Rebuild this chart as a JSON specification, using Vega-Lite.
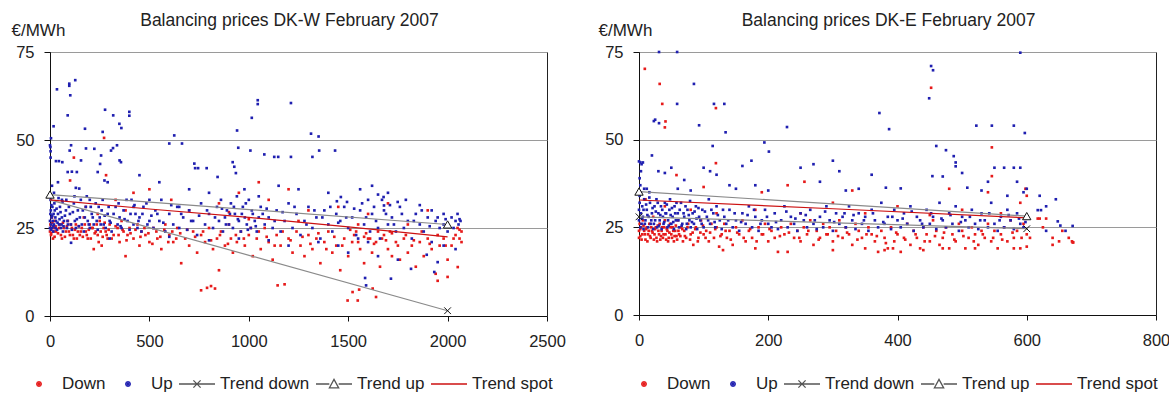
{
  "$schema": "https://vega.github.io/schema/vega-lite/v6.json",
  "background": "white",
  "padding": {"left": 10, "top": 11, "right": 5, "bottom": 0},
  "bounds": "flush",
  "spacing": 92,
  "config": {
    "font": "Liberation Sans",
    "view": {"stroke": "#222222", "strokeWidth": 1},
    "axis": {"labelFont": "Liberation Sans", "labelFontSize": 16.5, "labelColor": "#222222", "domainColor": "#111111", "tickColor": "#111111", "gridColor": "#9a9a9a", "gridWidth": 1, "titleFont": "Liberation Sans", "titleFontSize": 17, "titleFontWeight": "normal", "titleColor": "#222222"},
    "title": {"font": "Liberation Sans", "fontSize": 17.5, "fontWeight": "normal", "color": "#222222", "offset": -8, "dx": -9},
    "legend": {"orient": "none", "direction": "horizontal", "labelFont": "Liberation Sans", "labelFontSize": 17, "labelColor": "#222222", "symbolSize": 1296, "labelOffset": 4, "columnPadding": 3, "symbolStrokeWidth": 1.3, "symbolOpacity": 1}
  },
  "datasets": {
    "trendW": [
      {"s": "Trend down", "x": 0, "y": 33},
      {"s": "Trend down", "x": 2000, "y": 1.5},
      {"s": "Trend up", "x": 0, "y": 34.5},
      {"s": "Trend up", "x": 2000, "y": 26},
      {"s": "Trend spot", "x": 0, "y": 33},
      {"s": "Trend spot", "x": 500, "y": 30.4},
      {"s": "Trend spot", "x": 1000, "y": 28},
      {"s": "Trend spot", "x": 1500, "y": 25.3},
      {"s": "Trend spot", "x": 2000, "y": 22.5}
    ],
    "trendE": [
      {"s": "Trend down", "x": 0, "y": 28},
      {"s": "Trend down", "x": 600, "y": 24.6},
      {"s": "Trend up", "x": 0, "y": 35.2},
      {"s": "Trend up", "x": 600, "y": 28.2},
      {"s": "Trend spot", "x": 0, "y": 32.8},
      {"s": "Trend spot", "x": 300, "y": 30.3},
      {"s": "Trend spot", "x": 600, "y": 27.7}
    ],
    "markW": [
      {"s": "Trend up", "x": 0, "y": 34.5},
      {"s": "Trend up", "x": 2000, "y": 26},
      {"s": "Trend down", "x": 2000, "y": 1.5}
    ],
    "markE": [
      {"s": "Trend up", "x": 0, "y": 35.2},
      {"s": "Trend down", "x": 0, "y": 28},
      {"s": "Trend up", "x": 600, "y": 28.2},
      {"s": "Trend down", "x": 600, "y": 24.6}
    ],
    "scatW": [
      {"s":"Down","x":0,"y":24},{"s":"Down","x":2,"y":26},{"s":"Down","x":5,"y":23},{"s":"Down","x":8,"y":25},{"s":"Down","x":10,"y":28},{"s":"Down","x":15,"y":22},{"s":"Down","x":20,"y":25},{"s":"Down","x":25,"y":27},{"s":"Down","x":30,"y":24},{"s":"Down","x":40,"y":23.5},{"s":"Down","x":50,"y":26},{"s":"Down","x":60,"y":22},{"s":"Down","x":70,"y":25},{"s":"Down","x":80,"y":24},{"s":"Down","x":90,"y":27},{"s":"Down","x":100,"y":23},{"s":"Down","x":110,"y":25},{"s":"Down","x":120,"y":22},{"s":"Down","x":130,"y":26},{"s":"Down","x":140,"y":24},{"s":"Down","x":150,"y":23},{"s":"Down","x":160,"y":25},{"s":"Down","x":170,"y":28},{"s":"Down","x":180,"y":24},{"s":"Down","x":190,"y":22},{"s":"Down","x":200,"y":26},{"s":"Down","x":210,"y":25},{"s":"Down","x":220,"y":19},{"s":"Down","x":230,"y":24},{"s":"Down","x":240,"y":23},{"s":"Down","x":250,"y":27},{"s":"Down","x":260,"y":20},{"s":"Down","x":270,"y":25},{"s":"Down","x":280,"y":24},{"s":"Down","x":290,"y":22},{"s":"Down","x":300,"y":26},{"s":"Down","x":320,"y":23},{"s":"Down","x":340,"y":25},{"s":"Down","x":350,"y":21},{"s":"Down","x":360,"y":27},{"s":"Down","x":370,"y":24},{"s":"Down","x":380,"y":17},{"s":"Down","x":390,"y":23},{"s":"Down","x":400,"y":25},{"s":"Down","x":420,"y":22},{"s":"Down","x":440,"y":26},{"s":"Down","x":450,"y":20},{"s":"Down","x":460,"y":24},{"s":"Down","x":480,"y":23},{"s":"Down","x":500,"y":21},{"s":"Down","x":520,"y":25},{"s":"Down","x":540,"y":22},{"s":"Down","x":560,"y":19},{"s":"Down","x":580,"y":26},{"s":"Down","x":600,"y":23},{"s":"Down","x":620,"y":21},{"s":"Down","x":640,"y":25},{"s":"Down","x":660,"y":15},{"s":"Down","x":680,"y":22},{"s":"Down","x":700,"y":20},{"s":"Down","x":720,"y":24},{"s":"Down","x":740,"y":18},{"s":"Down","x":760,"y":23},{"s":"Down","x":780,"y":21},{"s":"Down","x":800,"y":25},{"s":"Down","x":820,"y":19},{"s":"Down","x":840,"y":22},{"s":"Down","x":850,"y":13},{"s":"Down","x":860,"y":24},{"s":"Down","x":880,"y":20},{"s":"Down","x":900,"y":26},{"s":"Down","x":910,"y":22},{"s":"Down","x":920,"y":18},{"s":"Down","x":940,"y":21},{"s":"Down","x":960,"y":24},{"s":"Down","x":980,"y":20},{"s":"Down","x":1000,"y":23},{"s":"Down","x":1020,"y":17},{"s":"Down","x":1040,"y":22},{"s":"Down","x":1060,"y":19},{"s":"Down","x":1080,"y":25},{"s":"Down","x":1100,"y":21},{"s":"Down","x":1120,"y":16},{"s":"Down","x":1140,"y":23},{"s":"Down","x":1160,"y":20},{"s":"Down","x":1180,"y":9},{"s":"Down","x":1200,"y":22},{"s":"Down","x":1220,"y":18},{"s":"Down","x":1240,"y":24},{"s":"Down","x":1260,"y":20},{"s":"Down","x":1280,"y":17},{"s":"Down","x":1300,"y":23},{"s":"Down","x":1320,"y":19},{"s":"Down","x":1340,"y":22},{"s":"Down","x":1360,"y":15},{"s":"Down","x":1380,"y":21},{"s":"Down","x":1400,"y":24},{"s":"Down","x":1420,"y":18},{"s":"Down","x":1440,"y":20},{"s":"Down","x":1460,"y":13},{"s":"Down","x":1480,"y":22},{"s":"Down","x":1500,"y":17},{"s":"Down","x":1520,"y":21},{"s":"Down","x":1540,"y":24},{"s":"Down","x":1560,"y":19},{"s":"Down","x":1580,"y":15},{"s":"Down","x":1600,"y":22},{"s":"Down","x":1620,"y":18},{"s":"Down","x":1640,"y":21},{"s":"Down","x":1660,"y":14},{"s":"Down","x":1680,"y":23},{"s":"Down","x":1700,"y":19},{"s":"Down","x":1720,"y":17},{"s":"Down","x":1740,"y":21},{"s":"Down","x":1760,"y":16},{"s":"Down","x":1780,"y":22},{"s":"Down","x":1800,"y":18},{"s":"Down","x":1820,"y":20},{"s":"Down","x":1840,"y":14},{"s":"Down","x":1860,"y":21},{"s":"Down","x":1880,"y":17},{"s":"Down","x":1900,"y":22},{"s":"Down","x":1920,"y":19},{"s":"Down","x":1940,"y":12},{"s":"Down","x":1960,"y":20},{"s":"Down","x":1980,"y":22},{"s":"Down","x":2000,"y":16},{"s":"Down","x":2020,"y":20},{"s":"Down","x":2040,"y":23},{"s":"Down","x":2060,"y":22},{"s":"Down","x":2070,"y":21},
      {"s":"Down","x":760,"y":7.3},{"s":"Down","x":790,"y":8},{"s":"Down","x":810,"y":8.5},{"s":"Down","x":830,"y":7.8},{"s":"Down","x":1497,"y":4.4},{"s":"Down","x":1548,"y":4.4},{"s":"Down","x":1522,"y":6.8},{"s":"Down","x":1555,"y":7.5},{"s":"Down","x":1640,"y":5.4},{"s":"Down","x":1623,"y":7.8},{"s":"Down","x":2000,"y":11.1},{"s":"Down","x":1950,"y":10},{"s":"Down","x":2051,"y":13.9},{"s":"Down","x":1145,"y":8.7},{"s":"Down","x":101,"y":38.5},{"s":"Down","x":272,"y":50.6},{"s":"Down","x":282,"y":40},{"s":"Down","x":120,"y":45},{"s":"Down","x":330,"y":33},{"s":"Down","x":500,"y":36},{"s":"Down","x":610,"y":33},{"s":"Down","x":700,"y":30},{"s":"Down","x":850,"y":32},{"s":"Down","x":950,"y":35},{"s":"Down","x":1050,"y":38},{"s":"Down","x":1100,"y":33},{"s":"Down","x":1200,"y":36},{"s":"Down","x":1300,"y":30},{"s":"Down","x":1450,"y":31},{"s":"Down","x":1600,"y":29},{"s":"Down","x":1700,"y":32},{"s":"Down","x":1900,"y":30},{"s":"Down","x":2060,"y":24.5},{"s":"Down","x":2070,"y":24},{"s":"Down","x":380,"y":30},{"s":"Down","x":420,"y":35},{"s":"Down","x":180,"y":31},{"s":"Down","x":240,"y":29},{"s":"Down","x":900,"y":29.5},{"s":"Down","x":1000,"y":27.5},{"s":"Down","x":1250,"y":27},{"s":"Down","x":1550,"y":26},{"s":"Down","x":1800,"y":26},{"s":"Down","x":1650,"y":24},{"s":"Down","x":1720,"y":23.5},{"s":"Down","x":1580,"y":22.5},{"s":"Down","x":1530,"y":23},{"s":"Down","x":1610,"y":22},{"s":"Down","x":1690,"y":21.5},
      {"s":"Down","x":3,"y":25},{"s":"Down","x":6,"y":23.5},{"s":"Down","x":12,"y":26.5},{"s":"Down","x":18,"y":24},{"s":"Down","x":23,"y":22.5},{"s":"Down","x":28,"y":25.5},{"s":"Down","x":35,"y":24.5},{"s":"Down","x":45,"y":25},{"s":"Down","x":55,"y":23},{"s":"Down","x":65,"y":26.5},{"s":"Down","x":75,"y":22.5},{"s":"Down","x":85,"y":25.5},{"s":"Down","x":95,"y":24},{"s":"Down","x":105,"y":26},{"s":"Down","x":115,"y":23},{"s":"Down","x":125,"y":24.5},{"s":"Down","x":135,"y":22},{"s":"Down","x":145,"y":25.5},{"s":"Down","x":155,"y":24},{"s":"Down","x":165,"y":22.5},{"s":"Down","x":175,"y":26},{"s":"Down","x":185,"y":23},{"s":"Down","x":195,"y":24.5},{"s":"Down","x":205,"y":22},{"s":"Down","x":215,"y":25},{"s":"Down","x":225,"y":23.5},{"s":"Down","x":235,"y":26},{"s":"Down","x":245,"y":21},{"s":"Down","x":255,"y":24},{"s":"Down","x":265,"y":22.5},{"s":"Down","x":275,"y":26.5},{"s":"Down","x":285,"y":23},{"s":"Down","x":295,"y":24.5},{"s":"Down","x":310,"y":22},{"s":"Down","x":330,"y":25.5},{"s":"Down","x":345,"y":23},{"s":"Down","x":365,"y":24.5},{"s":"Down","x":385,"y":21.5},{"s":"Down","x":405,"y":23.5},{"s":"Down","x":430,"y":24.5},{"s":"Down","x":455,"y":22.5},{"s":"Down","x":475,"y":25},{"s":"Down","x":495,"y":23.5},{"s":"Down","x":515,"y":20.5},{"s":"Down","x":535,"y":24},{"s":"Down","x":555,"y":22.5},{"s":"Down","x":575,"y":24.5},{"s":"Down","x":595,"y":21},{"s":"Down","x":615,"y":24},{"s":"Down","x":635,"y":22},{"s":"Down","x":655,"y":23.5},{"s":"Down","x":690,"y":24.5},{"s":"Down","x":730,"y":22.5},{"s":"Down","x":770,"y":24},{"s":"Down","x":810,"y":21.5},{"s":"Down","x":855,"y":23},{"s":"Down","x":895,"y":20.5},{"s":"Down","x":935,"y":23},{"s":"Down","x":975,"y":22},{"s":"Down","x":1010,"y":25},{"s":"Down","x":1050,"y":24},{"s":"Down","x":1090,"y":22.5},{"s":"Down","x":1130,"y":20},{"s":"Down","x":1170,"y":24},{"s":"Down","x":1210,"y":21.5},{"s":"Down","x":1270,"y":22.5},{"s":"Down","x":1310,"y":20.5},{"s":"Down","x":1350,"y":23.5},{"s":"Down","x":1390,"y":19},{"s":"Down","x":1430,"y":22.5},{"s":"Down","x":1470,"y":20},{"s":"Down","x":1510,"y":24.5},{"s":"Down","x":1550,"y":21},{"s":"Down","x":1590,"y":23.5},{"s":"Down","x":1630,"y":20.5},{"s":"Down","x":1670,"y":22},{"s":"Down","x":1710,"y":24},{"s":"Down","x":1750,"y":20},{"s":"Down","x":1790,"y":23},{"s":"Down","x":1830,"y":21.5},{"s":"Down","x":1870,"y":24},{"s":"Down","x":1910,"y":20.5},{"s":"Down","x":1950,"y":23},{"s":"Down","x":1990,"y":20},{"s":"Down","x":2030,"y":22},{"s":"Down","x":2050,"y":25},
      {"s":"Up","x":0,"y":27},{"s":"Up","x":0,"y":25},{"s":"Up","x":2,"y":29},{"s":"Up","x":4,"y":30},{"s":"Up","x":5,"y":24.5},{"s":"Up","x":6,"y":26},{"s":"Up","x":8,"y":28},{"s":"Up","x":10,"y":25},{"s":"Up","x":12,"y":31},{"s":"Up","x":14,"y":27},{"s":"Up","x":16,"y":24},{"s":"Up","x":18,"y":29},{"s":"Up","x":20,"y":26},{"s":"Up","x":24,"y":30},{"s":"Up","x":28,"y":25},{"s":"Up","x":30,"y":27},{"s":"Up","x":35,"y":24.5},{"s":"Up","x":40,"y":29},{"s":"Up","x":45,"y":26},{"s":"Up","x":50,"y":31},{"s":"Up","x":55,"y":25},{"s":"Up","x":60,"y":28},{"s":"Up","x":65,"y":24},{"s":"Up","x":70,"y":27},{"s":"Up","x":80,"y":30},{"s":"Up","x":85,"y":25},{"s":"Up","x":90,"y":26},{"s":"Up","x":100,"y":29},{"s":"Up","x":110,"y":24.5},{"s":"Up","x":120,"y":32},{"s":"Up","x":125,"y":27},{"s":"Up","x":130,"y":25},{"s":"Up","x":140,"y":30},{"s":"Up","x":150,"y":28},{"s":"Up","x":155,"y":33},{"s":"Up","x":160,"y":26},{"s":"Up","x":170,"y":24},{"s":"Up","x":180,"y":31},{"s":"Up","x":190,"y":27},{"s":"Up","x":200,"y":25},{"s":"Up","x":210,"y":29},{"s":"Up","x":220,"y":26},{"s":"Up","x":230,"y":32},{"s":"Up","x":240,"y":24.5},{"s":"Up","x":250,"y":28},{"s":"Up","x":260,"y":30},{"s":"Up","x":270,"y":26},{"s":"Up","x":280,"y":25},{"s":"Up","x":290,"y":29},{"s":"Up","x":300,"y":27},{"s":"Up","x":310,"y":24},{"s":"Up","x":330,"y":31},{"s":"Up","x":340,"y":26},{"s":"Up","x":350,"y":28},{"s":"Up","x":360,"y":25},{"s":"Up","x":370,"y":30},{"s":"Up","x":390,"y":27},{"s":"Up","x":400,"y":24.5},{"s":"Up","x":410,"y":33},{"s":"Up","x":420,"y":26},{"s":"Up","x":430,"y":29},{"s":"Up","x":440,"y":25},{"s":"Up","x":450,"y":28},{"s":"Up","x":460,"y":24},{"s":"Up","x":470,"y":31},{"s":"Up","x":490,"y":26},{"s":"Up","x":500,"y":27},{"s":"Up","x":520,"y":25},{"s":"Up","x":530,"y":30},{"s":"Up","x":550,"y":27},{"s":"Up","x":560,"y":33},{"s":"Up","x":580,"y":24},{"s":"Up","x":600,"y":29},{"s":"Up","x":620,"y":26},{"s":"Up","x":640,"y":31},{"s":"Up","x":650,"y":25},{"s":"Up","x":670,"y":28},{"s":"Up","x":690,"y":24.5},{"s":"Up","x":700,"y":30},{"s":"Up","x":720,"y":27},{"s":"Up","x":740,"y":23},{"s":"Up","x":760,"y":32},{"s":"Up","x":780,"y":26},{"s":"Up","x":800,"y":29},{"s":"Up","x":820,"y":25},{"s":"Up","x":840,"y":31},{"s":"Up","x":850,"y":27},{"s":"Up","x":860,"y":33},{"s":"Up","x":870,"y":24},{"s":"Up","x":880,"y":28},{"s":"Up","x":890,"y":30},{"s":"Up","x":900,"y":26},{"s":"Up","x":910,"y":32},{"s":"Up","x":920,"y":25},{"s":"Up","x":930,"y":29},{"s":"Up","x":940,"y":34},{"s":"Up","x":950,"y":27},{"s":"Up","x":960,"y":24},{"s":"Up","x":970,"y":31},{"s":"Up","x":980,"y":28},{"s":"Up","x":990,"y":26},{"s":"Up","x":1000,"y":33},{"s":"Up","x":1010,"y":25},{"s":"Up","x":1020,"y":29},{"s":"Up","x":1030,"y":27},{"s":"Up","x":1040,"y":24},{"s":"Up","x":1060,"y":31},{"s":"Up","x":1080,"y":26},{"s":"Up","x":1100,"y":28},{"s":"Up","x":1120,"y":25},{"s":"Up","x":1140,"y":30},{"s":"Up","x":1160,"y":24},{"s":"Up","x":1180,"y":27},{"s":"Up","x":1200,"y":32},{"s":"Up","x":1220,"y":25},{"s":"Up","x":1240,"y":29},{"s":"Up","x":1260,"y":23},{"s":"Up","x":1280,"y":27},{"s":"Up","x":1300,"y":31},{"s":"Up","x":1320,"y":25},{"s":"Up","x":1340,"y":28},{"s":"Up","x":1360,"y":22},{"s":"Up","x":1380,"y":30},{"s":"Up","x":1400,"y":26},{"s":"Up","x":1420,"y":24},{"s":"Up","x":1440,"y":29},{"s":"Up","x":1460,"y":27},{"s":"Up","x":1480,"y":31},{"s":"Up","x":1500,"y":25},{"s":"Up","x":1520,"y":28},{"s":"Up","x":1540,"y":23},{"s":"Up","x":1560,"y":30},{"s":"Up","x":1580,"y":26},{"s":"Up","x":1600,"y":33},{"s":"Up","x":1610,"y":24},{"s":"Up","x":1620,"y":29},{"s":"Up","x":1640,"y":27},{"s":"Up","x":1660,"y":22},{"s":"Up","x":1680,"y":30},{"s":"Up","x":1700,"y":26},{"s":"Up","x":1720,"y":28},{"s":"Up","x":1740,"y":24},{"s":"Up","x":1760,"y":31},{"s":"Up","x":1780,"y":25},{"s":"Up","x":1800,"y":27},{"s":"Up","x":1820,"y":22},{"s":"Up","x":1840,"y":29},{"s":"Up","x":1860,"y":26},{"s":"Up","x":1880,"y":24},{"s":"Up","x":1900,"y":28},{"s":"Up","x":1920,"y":21},{"s":"Up","x":1940,"y":27},{"s":"Up","x":1960,"y":25},{"s":"Up","x":1980,"y":26},{"s":"Up","x":2000,"y":24},{"s":"Up","x":2020,"y":28},{"s":"Up","x":2040,"y":27},{"s":"Up","x":2055,"y":26},{"s":"Up","x":2065,"y":27},
      {"s":"Up","x":3,"y":33},{"s":"Up","x":7,"y":31.5},{"s":"Up","x":11,"y":28.5},{"s":"Up","x":17,"y":25.5},{"s":"Up","x":22,"y":32},{"s":"Up","x":27,"y":28},{"s":"Up","x":33,"y":30.5},{"s":"Up","x":38,"y":26.5},{"s":"Up","x":43,"y":33.5},{"s":"Up","x":48,"y":27.5},{"s":"Up","x":53,"y":29.5},{"s":"Up","x":58,"y":26},{"s":"Up","x":63,"y":32.5},{"s":"Up","x":68,"y":25.5},{"s":"Up","x":75,"y":28.5},{"s":"Up","x":82,"y":33},{"s":"Up","x":88,"y":27},{"s":"Up","x":95,"y":31},{"s":"Up","x":105,"y":26},{"s":"Up","x":115,"y":29.5},{"s":"Up","x":123,"y":34},{"s":"Up","x":135,"y":27.5},{"s":"Up","x":145,"y":25.5},{"s":"Up","x":165,"y":30},{"s":"Up","x":175,"y":28},{"s":"Up","x":185,"y":34},{"s":"Up","x":195,"y":26},{"s":"Up","x":205,"y":31},{"s":"Up","x":215,"y":28},{"s":"Up","x":235,"y":27},{"s":"Up","x":245,"y":31},{"s":"Up","x":255,"y":26},{"s":"Up","x":265,"y":33},{"s":"Up","x":275,"y":28.5},{"s":"Up","x":295,"y":31},{"s":"Up","x":305,"y":26.5},{"s":"Up","x":320,"y":29},{"s":"Up","x":345,"y":32},{"s":"Up","x":355,"y":25.5},{"s":"Up","x":375,"y":27.5},{"s":"Up","x":385,"y":33},{"s":"Up","x":405,"y":29},{"s":"Up","x":425,"y":31.5},{"s":"Up","x":445,"y":27},{"s":"Up","x":465,"y":29},{"s":"Up","x":485,"y":32},{"s":"Up","x":510,"y":28.5},{"s":"Up","x":540,"y":29},{"s":"Up","x":570,"y":26.5},{"s":"Up","x":610,"y":31.5},{"s":"Up","x":660,"y":29},{"s":"Up","x":710,"y":27},{"s":"Up","x":750,"y":28.5},{"s":"Up","x":790,"y":30},{"s":"Up","x":830,"y":28},{"s":"Up","x":865,"y":30.5},{"s":"Up","x":885,"y":26},{"s":"Up","x":905,"y":29},{"s":"Up","x":925,"y":31},{"s":"Up","x":945,"y":27.5},{"s":"Up","x":965,"y":29},{"s":"Up","x":985,"y":32},{"s":"Up","x":995,"y":24.5},{"s":"Up","x":1015,"y":30},{"s":"Up","x":1035,"y":25.5},{"s":"Up","x":1050,"y":28},{"s":"Up","x":1070,"y":29},{"s":"Up","x":1090,"y":30.5},{"s":"Up","x":1130,"y":27},{"s":"Up","x":1170,"y":29.5},{"s":"Up","x":1230,"y":31},{"s":"Up","x":1290,"y":26},{"s":"Up","x":1330,"y":30},{"s":"Up","x":1370,"y":28},{"s":"Up","x":1410,"y":31},{"s":"Up","x":1450,"y":26.5},{"s":"Up","x":1490,"y":28},{"s":"Up","x":1530,"y":30.5},{"s":"Up","x":1570,"y":32},{"s":"Up","x":1590,"y":28},{"s":"Up","x":1630,"y":31},{"s":"Up","x":1650,"y":25},{"s":"Up","x":1670,"y":33},{"s":"Up","x":1690,"y":29},{"s":"Up","x":1710,"y":31.5},{"s":"Up","x":1730,"y":26},{"s":"Up","x":1770,"y":29},{"s":"Up","x":1790,"y":33},{"s":"Up","x":1830,"y":27},{"s":"Up","x":1870,"y":30},{"s":"Up","x":1910,"y":25.5},{"s":"Up","x":1950,"y":28},{"s":"Up","x":1990,"y":27.5},{"s":"Up","x":2030,"y":25},{"s":"Up","x":2050,"y":29},
      {"s":"Up","x":2,"y":48},{"s":"Up","x":3,"y":45},{"s":"Up","x":5,"y":50.5},{"s":"Up","x":0,"y":48.5},{"s":"Up","x":3,"y":46.8},{"s":"Up","x":18,"y":53.9},{"s":"Up","x":35,"y":64.4},{"s":"Up","x":30,"y":44},{"s":"Up","x":45,"y":44},{"s":"Up","x":62,"y":43.7},{"s":"Up","x":89,"y":57},{"s":"Up","x":97,"y":66},{"s":"Up","x":97,"y":65.4},{"s":"Up","x":102,"y":62.7},{"s":"Up","x":127,"y":67},{"s":"Up","x":106,"y":48.5},{"s":"Up","x":99,"y":47},{"s":"Up","x":89,"y":40.9},{"s":"Up","x":110,"y":41},{"s":"Up","x":135,"y":40.9},{"s":"Up","x":156,"y":44.2},{"s":"Up","x":181,"y":47.6},{"s":"Up","x":176,"y":53.2},{"s":"Up","x":130,"y":36.4},{"s":"Up","x":147,"y":36.2},{"s":"Up","x":223,"y":47.5},{"s":"Up","x":257,"y":45.6},{"s":"Up","x":252,"y":43.2},{"s":"Up","x":240,"y":40.9},{"s":"Up","x":274,"y":38.5},{"s":"Up","x":290,"y":38},{"s":"Up","x":265,"y":52.3},{"s":"Up","x":277,"y":58.6},{"s":"Up","x":307,"y":47},{"s":"Up","x":317,"y":47.7},{"s":"Up","x":337,"y":48.5},{"s":"Up","x":350,"y":44.2},{"s":"Up","x":357,"y":43.7},{"s":"Up","x":318,"y":57},{"s":"Up","x":349,"y":54.6},{"s":"Up","x":359,"y":53.4},{"s":"Up","x":399,"y":58},{"s":"Up","x":399,"y":56.9},{"s":"Up","x":625,"y":51.3},{"s":"Up","x":600,"y":49},{"s":"Up","x":664,"y":49},{"s":"Up","x":726,"y":43.3},{"s":"Up","x":730,"y":42},{"s":"Up","x":745,"y":42},{"s":"Up","x":788,"y":42},{"s":"Up","x":843,"y":39.5},{"s":"Up","x":919,"y":43.7},{"s":"Up","x":927,"y":42.4},{"s":"Up","x":935,"y":40.6},{"s":"Up","x":941,"y":52.7},{"s":"Up","x":978,"y":36},{"s":"Up","x":1008,"y":47},{"s":"Up","x":947,"y":47.8},{"s":"Up","x":1015,"y":56.3},{"s":"Up","x":1045,"y":61.3},{"s":"Up","x":1045,"y":60.2},{"s":"Up","x":1078,"y":45.9},{"s":"Up","x":1128,"y":45.2},{"s":"Up","x":1148,"y":45.2},{"s":"Up","x":1212,"y":60.5},{"s":"Up","x":1212,"y":45.2},{"s":"Up","x":1320,"y":45.2},{"s":"Up","x":1313,"y":51.8},{"s":"Up","x":1351,"y":51},{"s":"Up","x":1354,"y":47},{"s":"Up","x":1434,"y":47},{"s":"Up","x":1463,"y":33.8},{"s":"Up","x":1443,"y":32.6},{"s":"Up","x":1494,"y":32.4},{"s":"Up","x":1678,"y":33.8},{"s":"Up","x":1680,"y":31.4},{"s":"Up","x":1749,"y":32.4},{"s":"Up","x":1700,"y":35},{"s":"Up","x":1560,"y":36},{"s":"Up","x":1620,"y":37},{"s":"Up","x":1650,"y":34.5},{"s":"Up","x":1400,"y":35},{"s":"Up","x":1250,"y":36},{"s":"Up","x":1150,"y":37},{"s":"Up","x":1050,"y":34},{"s":"Up","x":800,"y":35},{"s":"Up","x":700,"y":36},{"s":"Up","x":550,"y":38},{"s":"Up","x":450,"y":40},{"s":"Up","x":500,"y":33},{"s":"Up","x":650,"y":31},{"s":"Up","x":420,"y":31},{"s":"Up","x":200,"y":33},{"s":"Up","x":60,"y":33},{"s":"Up","x":20,"y":35},{"s":"Up","x":10,"y":37},{"s":"Up","x":40,"y":38},{"s":"Up","x":1860,"y":31.5},{"s":"Up","x":1920,"y":30},{"s":"Up","x":2060,"y":27.5},{"s":"Up","x":1980,"y":29},
      {"s":"Up","x":106,"y":20.8},{"s":"Up","x":1585,"y":10.8},{"s":"Up","x":1590,"y":8.7},{"s":"Up","x":1715,"y":10.6},{"s":"Up","x":1816,"y":13.4},{"s":"Up","x":1933,"y":12.5},{"s":"Up","x":1950,"y":15.3},{"s":"Up","x":1895,"y":17.4},{"s":"Up","x":1500,"y":18},{"s":"Up","x":1650,"y":17},{"s":"Up","x":1750,"y":16},{"s":"Up","x":1450,"y":20},{"s":"Up","x":1350,"y":21},{"s":"Up","x":1200,"y":20},{"s":"Up","x":1100,"y":21.5},{"s":"Up","x":950,"y":22},{"s":"Up","x":800,"y":21.5},{"s":"Up","x":600,"y":22.5},{"s":"Up","x":300,"y":22},{"s":"Up","x":1550,"y":22},{"s":"Up","x":1600,"y":21},{"s":"Up","x":1980,"y":20},{"s":"Up","x":2040,"y":19}
    ],
    "scatE": [
      {"s":"Down","x":0,"y":24},{"s":"Down","x":1,"y":26},{"s":"Down","x":2,"y":22.5},{"s":"Down","x":3,"y":25},{"s":"Down","x":5,"y":23},{"s":"Down","x":6,"y":27},{"s":"Down","x":8,"y":24},{"s":"Down","x":10,"y":21.5},{"s":"Down","x":12,"y":25},{"s":"Down","x":14,"y":23},{"s":"Down","x":16,"y":26},{"s":"Down","x":18,"y":22},{"s":"Down","x":20,"y":24},{"s":"Down","x":22,"y":28},{"s":"Down","x":24,"y":23},{"s":"Down","x":26,"y":25},{"s":"Down","x":28,"y":21},{"s":"Down","x":30,"y":24},{"s":"Down","x":32,"y":26},{"s":"Down","x":34,"y":22.5},{"s":"Down","x":36,"y":25},{"s":"Down","x":38,"y":23},{"s":"Down","x":40,"y":27},{"s":"Down","x":42,"y":21.5},{"s":"Down","x":44,"y":24},{"s":"Down","x":46,"y":22},{"s":"Down","x":48,"y":26},{"s":"Down","x":50,"y":23},{"s":"Down","x":52,"y":25},{"s":"Down","x":54,"y":21},{"s":"Down","x":56,"y":24},{"s":"Down","x":58,"y":22.5},{"s":"Down","x":60,"y":27},{"s":"Down","x":62,"y":23},{"s":"Down","x":65,"y":25},{"s":"Down","x":68,"y":21},{"s":"Down","x":70,"y":24},{"s":"Down","x":73,"y":22},{"s":"Down","x":76,"y":26},{"s":"Down","x":80,"y":23},{"s":"Down","x":84,"y":20},{"s":"Down","x":88,"y":25},{"s":"Down","x":92,"y":22},{"s":"Down","x":96,"y":27},{"s":"Down","x":100,"y":23},{"s":"Down","x":104,"y":24},{"s":"Down","x":108,"y":21},{"s":"Down","x":112,"y":26},{"s":"Down","x":116,"y":22},{"s":"Down","x":120,"y":25},{"s":"Down","x":124,"y":19.5},{"s":"Down","x":128,"y":23},{"s":"Down","x":132,"y":26},{"s":"Down","x":136,"y":22},{"s":"Down","x":140,"y":24},{"s":"Down","x":145,"y":20},{"s":"Down","x":150,"y":25},{"s":"Down","x":155,"y":23},{"s":"Down","x":160,"y":27},{"s":"Down","x":165,"y":21},{"s":"Down","x":170,"y":24},{"s":"Down","x":175,"y":22},{"s":"Down","x":180,"y":19},{"s":"Down","x":185,"y":25},{"s":"Down","x":190,"y":23},{"s":"Down","x":195,"y":26},{"s":"Down","x":200,"y":21},{"s":"Down","x":205,"y":24},{"s":"Down","x":210,"y":22},{"s":"Down","x":215,"y":18},{"s":"Down","x":220,"y":25},{"s":"Down","x":225,"y":23},{"s":"Down","x":230,"y":18},{"s":"Down","x":235,"y":26},{"s":"Down","x":240,"y":22},{"s":"Down","x":245,"y":24},{"s":"Down","x":250,"y":21},{"s":"Down","x":255,"y":25},{"s":"Down","x":260,"y":23},{"s":"Down","x":265,"y":27},{"s":"Down","x":270,"y":20},{"s":"Down","x":275,"y":24},{"s":"Down","x":280,"y":22},{"s":"Down","x":285,"y":26},{"s":"Down","x":290,"y":23},{"s":"Down","x":295,"y":25},{"s":"Down","x":300,"y":21},{"s":"Down","x":305,"y":24},{"s":"Down","x":310,"y":27},{"s":"Down","x":315,"y":22},{"s":"Down","x":320,"y":25},{"s":"Down","x":325,"y":23},{"s":"Down","x":330,"y":20},{"s":"Down","x":335,"y":26},{"s":"Down","x":340,"y":24},{"s":"Down","x":345,"y":22},{"s":"Down","x":350,"y":19},{"s":"Down","x":355,"y":25},{"s":"Down","x":360,"y":23},{"s":"Down","x":365,"y":21},{"s":"Down","x":370,"y":18},{"s":"Down","x":375,"y":24},{"s":"Down","x":380,"y":22},{"s":"Down","x":385,"y":19},{"s":"Down","x":390,"y":25},{"s":"Down","x":395,"y":21},{"s":"Down","x":400,"y":23},{"s":"Down","x":405,"y":18},{"s":"Down","x":410,"y":22},{"s":"Down","x":415,"y":26},{"s":"Down","x":420,"y":20},{"s":"Down","x":425,"y":24},{"s":"Down","x":430,"y":22},{"s":"Down","x":435,"y":19},{"s":"Down","x":440,"y":25},{"s":"Down","x":445,"y":23},{"s":"Down","x":450,"y":21},{"s":"Down","x":455,"y":27},{"s":"Down","x":460,"y":24},{"s":"Down","x":465,"y":20},{"s":"Down","x":470,"y":22},{"s":"Down","x":475,"y":25},{"s":"Down","x":480,"y":19},{"s":"Down","x":485,"y":23},{"s":"Down","x":490,"y":21},{"s":"Down","x":495,"y":26},{"s":"Down","x":500,"y":24},{"s":"Down","x":505,"y":19},{"s":"Down","x":510,"y":22},{"s":"Down","x":515,"y":25},{"s":"Down","x":520,"y":23},{"s":"Down","x":525,"y":20},{"s":"Down","x":530,"y":24},{"s":"Down","x":535,"y":22},{"s":"Down","x":540,"y":26},{"s":"Down","x":545,"y":21},{"s":"Down","x":550,"y":24},{"s":"Down","x":555,"y":19},{"s":"Down","x":560,"y":23},{"s":"Down","x":565,"y":25},{"s":"Down","x":570,"y":21},{"s":"Down","x":575,"y":27},{"s":"Down","x":580,"y":22},{"s":"Down","x":585,"y":24},{"s":"Down","x":590,"y":19},{"s":"Down","x":595,"y":26},{"s":"Down","x":600,"y":23},{"s":"Down","x":605,"y":22},{"s":"Down","x":620,"y":27.5},{"s":"Down","x":625,"y":25},{"s":"Down","x":640,"y":22},{"s":"Down","x":650,"y":21},{"s":"Down","x":655,"y":24},{"s":"Down","x":670,"y":21},{"s":"Down","x":672,"y":20.7},
      {"s":"Down","x":9,"y":70.2},{"s":"Down","x":32,"y":65.9},{"s":"Down","x":36,"y":60.2},{"s":"Down","x":41,"y":55.2},{"s":"Down","x":40,"y":53.5},{"s":"Down","x":119,"y":59},{"s":"Down","x":119,"y":43.3},{"s":"Down","x":58,"y":39.9},{"s":"Down","x":256,"y":38},{"s":"Down","x":452,"y":64.8},{"s":"Down","x":546,"y":47.8},{"s":"Down","x":546,"y":39.6},{"s":"Down","x":100,"y":36.5},{"s":"Down","x":190,"y":35},{"s":"Down","x":230,"y":37},{"s":"Down","x":330,"y":35.5},{"s":"Down","x":480,"y":36},{"s":"Down","x":540,"y":35},{"s":"Down","x":10,"y":33},{"s":"Down","x":40,"y":31},{"s":"Down","x":80,"y":30},{"s":"Down","x":120,"y":29},{"s":"Down","x":180,"y":30},{"s":"Down","x":250,"y":29},{"s":"Down","x":300,"y":32},{"s":"Down","x":350,"y":29},{"s":"Down","x":400,"y":31},{"s":"Down","x":450,"y":28.5},{"s":"Down","x":500,"y":30},{"s":"Down","x":560,"y":29},{"s":"Down","x":590,"y":32},{"s":"Down","x":598,"y":36},{"s":"Down","x":600,"y":34},{"s":"Down","x":617,"y":27.5},{"s":"Down","x":630,"y":27.5},{"s":"Down","x":671,"y":20.7},{"s":"Down","x":665,"y":22},{"s":"Down","x":130,"y":18.5},{"s":"Down","x":300,"y":18.5},{"s":"Down","x":380,"y":18.5},{"s":"Down","x":393,"y":19},{"s":"Down","x":440,"y":18.5},{"s":"Down","x":470,"y":19},{"s":"Down","x":520,"y":19},{"s":"Down","x":580,"y":19},{"s":"Down","x":600,"y":19.5},{"s":"Down","x":640,"y":20},
      {"s":"Down","x":0,"y":22},{"s":"Down","x":2,"y":24.5},{"s":"Down","x":4,"y":21.5},{"s":"Down","x":7,"y":25.5},{"s":"Down","x":9,"y":23},{"s":"Down","x":11,"y":24.5},{"s":"Down","x":13,"y":21},{"s":"Down","x":15,"y":24},{"s":"Down","x":17,"y":22.5},{"s":"Down","x":19,"y":25},{"s":"Down","x":21,"y":23.5},{"s":"Down","x":23,"y":21.5},{"s":"Down","x":25,"y":24.5},{"s":"Down","x":27,"y":22},{"s":"Down","x":29,"y":25.5},{"s":"Down","x":31,"y":23},{"s":"Down","x":33,"y":21.5},{"s":"Down","x":35,"y":24},{"s":"Down","x":37,"y":22},{"s":"Down","x":39,"y":25},{"s":"Down","x":41,"y":23},{"s":"Down","x":43,"y":24.5},{"s":"Down","x":45,"y":21},{"s":"Down","x":47,"y":23.5},{"s":"Down","x":49,"y":25},{"s":"Down","x":51,"y":22},{"s":"Down","x":53,"y":24},{"s":"Down","x":55,"y":22.5},{"s":"Down","x":57,"y":25.5},{"s":"Down","x":59,"y":21.5},{"s":"Down","x":61,"y":24},{"s":"Down","x":64,"y":22.5},{"s":"Down","x":67,"y":24.5},{"s":"Down","x":71,"y":22.5},{"s":"Down","x":75,"y":25},{"s":"Down","x":79,"y":21.5},{"s":"Down","x":83,"y":23.5},{"s":"Down","x":87,"y":24.5},{"s":"Down","x":91,"y":21},{"s":"Down","x":95,"y":23.5},{"s":"Down","x":99,"y":25.5},{"s":"Down","x":103,"y":22},{"s":"Down","x":110,"y":23.5},{"s":"Down","x":118,"y":24.5},{"s":"Down","x":126,"y":22.5},{"s":"Down","x":134,"y":24},{"s":"Down","x":142,"y":21.5},{"s":"Down","x":152,"y":23.5},{"s":"Down","x":162,"y":22},{"s":"Down","x":172,"y":24.5},{"s":"Down","x":182,"y":21},{"s":"Down","x":192,"y":23},{"s":"Down","x":202,"y":24.5},{"s":"Down","x":218,"y":22.5},{"s":"Down","x":232,"y":23.5},{"s":"Down","x":248,"y":22},{"s":"Down","x":262,"y":24},{"s":"Down","x":278,"y":21.5},{"s":"Down","x":292,"y":23},{"s":"Down","x":308,"y":22.5},{"s":"Down","x":322,"y":23.5},{"s":"Down","x":338,"y":21.5},{"s":"Down","x":352,"y":23},{"s":"Down","x":368,"y":22.5},{"s":"Down","x":382,"y":20.5},{"s":"Down","x":398,"y":23.5},{"s":"Down","x":412,"y":21.5},{"s":"Down","x":428,"y":23},{"s":"Down","x":442,"y":21},{"s":"Down","x":458,"y":22.5},{"s":"Down","x":472,"y":23.5},{"s":"Down","x":488,"y":21.5},{"s":"Down","x":502,"y":22.5},{"s":"Down","x":518,"y":21},{"s":"Down","x":532,"y":23},{"s":"Down","x":548,"y":22},{"s":"Down","x":562,"y":21.5},{"s":"Down","x":578,"y":23.5},{"s":"Down","x":592,"y":22},
      {"s":"Up","x":0,"y":27},{"s":"Up","x":0,"y":30},{"s":"Up","x":1,"y":32},{"s":"Up","x":2,"y":25},{"s":"Up","x":3,"y":29},{"s":"Up","x":4,"y":26},{"s":"Up","x":5,"y":31},{"s":"Up","x":6,"y":28},{"s":"Up","x":7,"y":24.5},{"s":"Up","x":8,"y":33},{"s":"Up","x":10,"y":27},{"s":"Up","x":12,"y":30},{"s":"Up","x":14,"y":25},{"s":"Up","x":15,"y":28},{"s":"Up","x":17,"y":32},{"s":"Up","x":18,"y":26},{"s":"Up","x":20,"y":29},{"s":"Up","x":22,"y":24.5},{"s":"Up","x":24,"y":31},{"s":"Up","x":25,"y":27},{"s":"Up","x":27,"y":33},{"s":"Up","x":28,"y":25},{"s":"Up","x":30,"y":29},{"s":"Up","x":32,"y":27},{"s":"Up","x":34,"y":31},{"s":"Up","x":35,"y":24.5},{"s":"Up","x":37,"y":28},{"s":"Up","x":38,"y":26},{"s":"Up","x":40,"y":32},{"s":"Up","x":42,"y":29},{"s":"Up","x":44,"y":25},{"s":"Up","x":45,"y":27},{"s":"Up","x":47,"y":30},{"s":"Up","x":48,"y":33},{"s":"Up","x":50,"y":26},{"s":"Up","x":52,"y":28},{"s":"Up","x":54,"y":24.5},{"s":"Up","x":55,"y":31},{"s":"Up","x":57,"y":27},{"s":"Up","x":60,"y":29},{"s":"Up","x":62,"y":25},{"s":"Up","x":65,"y":32},{"s":"Up","x":67,"y":26},{"s":"Up","x":70,"y":28},{"s":"Up","x":73,"y":24.5},{"s":"Up","x":75,"y":30},{"s":"Up","x":78,"y":27},{"s":"Up","x":80,"y":25},{"s":"Up","x":83,"y":29},{"s":"Up","x":85,"y":26},{"s":"Up","x":88,"y":31},{"s":"Up","x":90,"y":24.5},{"s":"Up","x":93,"y":28},{"s":"Up","x":95,"y":27},{"s":"Up","x":98,"y":30},{"s":"Up","x":100,"y":25},{"s":"Up","x":105,"y":28},{"s":"Up","x":108,"y":33},{"s":"Up","x":110,"y":26},{"s":"Up","x":115,"y":29},{"s":"Up","x":118,"y":25},{"s":"Up","x":120,"y":31},{"s":"Up","x":125,"y":27},{"s":"Up","x":128,"y":24.5},{"s":"Up","x":132,"y":28},{"s":"Up","x":135,"y":26},{"s":"Up","x":140,"y":30},{"s":"Up","x":145,"y":25},{"s":"Up","x":150,"y":27},{"s":"Up","x":155,"y":24},{"s":"Up","x":160,"y":29},{"s":"Up","x":165,"y":26},{"s":"Up","x":170,"y":31},{"s":"Up","x":175,"y":25},{"s":"Up","x":180,"y":28},{"s":"Up","x":185,"y":24},{"s":"Up","x":190,"y":27},{"s":"Up","x":195,"y":30},{"s":"Up","x":200,"y":26},{"s":"Up","x":205,"y":25},{"s":"Up","x":210,"y":29},{"s":"Up","x":215,"y":24.5},{"s":"Up","x":220,"y":27},{"s":"Up","x":225,"y":31},{"s":"Up","x":230,"y":25},{"s":"Up","x":235,"y":28},{"s":"Up","x":240,"y":26},{"s":"Up","x":245,"y":24},{"s":"Up","x":250,"y":29},{"s":"Up","x":255,"y":27},{"s":"Up","x":260,"y":25},{"s":"Up","x":265,"y":30},{"s":"Up","x":270,"y":26},{"s":"Up","x":275,"y":24.5},{"s":"Up","x":280,"y":28},{"s":"Up","x":285,"y":25},{"s":"Up","x":290,"y":31},{"s":"Up","x":295,"y":27},{"s":"Up","x":300,"y":24},{"s":"Up","x":305,"y":29},{"s":"Up","x":310,"y":26},{"s":"Up","x":315,"y":28},{"s":"Up","x":320,"y":25},{"s":"Up","x":325,"y":31},{"s":"Up","x":330,"y":27},{"s":"Up","x":335,"y":24.5},{"s":"Up","x":340,"y":29},{"s":"Up","x":345,"y":26},{"s":"Up","x":350,"y":28},{"s":"Up","x":355,"y":24},{"s":"Up","x":360,"y":30},{"s":"Up","x":365,"y":27},{"s":"Up","x":370,"y":25},{"s":"Up","x":375,"y":32},{"s":"Up","x":380,"y":26},{"s":"Up","x":385,"y":28},{"s":"Up","x":390,"y":24.5},{"s":"Up","x":395,"y":30},{"s":"Up","x":400,"y":27},{"s":"Up","x":405,"y":25},{"s":"Up","x":410,"y":29},{"s":"Up","x":415,"y":26},{"s":"Up","x":420,"y":31},{"s":"Up","x":425,"y":24},{"s":"Up","x":430,"y":28},{"s":"Up","x":435,"y":27},{"s":"Up","x":440,"y":25},{"s":"Up","x":445,"y":30},{"s":"Up","x":450,"y":26},{"s":"Up","x":455,"y":28},{"s":"Up","x":460,"y":24.5},{"s":"Up","x":465,"y":32},{"s":"Up","x":470,"y":27},{"s":"Up","x":475,"y":25},{"s":"Up","x":480,"y":29},{"s":"Up","x":485,"y":26},{"s":"Up","x":490,"y":31},{"s":"Up","x":495,"y":24},{"s":"Up","x":500,"y":28},{"s":"Up","x":505,"y":27},{"s":"Up","x":510,"y":25},{"s":"Up","x":515,"y":30},{"s":"Up","x":520,"y":26},{"s":"Up","x":525,"y":24.5},{"s":"Up","x":530,"y":29},{"s":"Up","x":535,"y":27},{"s":"Up","x":540,"y":25},{"s":"Up","x":545,"y":32},{"s":"Up","x":550,"y":26},{"s":"Up","x":555,"y":24},{"s":"Up","x":560,"y":28},{"s":"Up","x":565,"y":25},{"s":"Up","x":570,"y":30},{"s":"Up","x":575,"y":27},{"s":"Up","x":580,"y":24.5},{"s":"Up","x":585,"y":29},{"s":"Up","x":590,"y":26},{"s":"Up","x":595,"y":25},{"s":"Up","x":600,"y":28},{"s":"Up","x":617,"y":29.9},{"s":"Up","x":622,"y":29.9},{"s":"Up","x":630,"y":24},{"s":"Up","x":648,"y":26.7},{"s":"Up","x":652,"y":25.5},{"s":"Up","x":660,"y":24},{"s":"Up","x":671,"y":25.4},
      {"s":"Up","x":1,"y":34},{"s":"Up","x":3,"y":35},{"s":"Up","x":5,"y":27.5},{"s":"Up","x":7,"y":30},{"s":"Up","x":9,"y":26},{"s":"Up","x":11,"y":31.5},{"s":"Up","x":13,"y":28.5},{"s":"Up","x":16,"y":33.5},{"s":"Up","x":19,"y":27},{"s":"Up","x":21,"y":30.5},{"s":"Up","x":23,"y":26},{"s":"Up","x":26,"y":29.5},{"s":"Up","x":29,"y":32},{"s":"Up","x":31,"y":25.5},{"s":"Up","x":33,"y":28.5},{"s":"Up","x":36,"y":30},{"s":"Up","x":39,"y":26.5},{"s":"Up","x":41,"y":29},{"s":"Up","x":43,"y":31.5},{"s":"Up","x":46,"y":25.5},{"s":"Up","x":49,"y":28.5},{"s":"Up","x":51,"y":30.5},{"s":"Up","x":53,"y":26.5},{"s":"Up","x":56,"y":29},{"s":"Up","x":58,"y":32},{"s":"Up","x":61,"y":27},{"s":"Up","x":63,"y":30},{"s":"Up","x":66,"y":25.5},{"s":"Up","x":69,"y":29},{"s":"Up","x":72,"y":31},{"s":"Up","x":74,"y":26},{"s":"Up","x":77,"y":28.5},{"s":"Up","x":79,"y":32.5},{"s":"Up","x":82,"y":26.5},{"s":"Up","x":86,"y":29.5},{"s":"Up","x":89,"y":27.5},{"s":"Up","x":92,"y":30.5},{"s":"Up","x":97,"y":26},{"s":"Up","x":102,"y":29.5},{"s":"Up","x":107,"y":27},{"s":"Up","x":112,"y":30},{"s":"Up","x":117,"y":26.5},{"s":"Up","x":122,"y":28.5},{"s":"Up","x":130,"y":30},{"s":"Up","x":138,"y":27},{"s":"Up","x":148,"y":29},{"s":"Up","x":158,"y":26.5},{"s":"Up","x":168,"y":28.5},{"s":"Up","x":178,"y":30},{"s":"Up","x":188,"y":26},{"s":"Up","x":198,"y":28},{"s":"Up","x":212,"y":26.5},{"s":"Up","x":228,"y":29.5},{"s":"Up","x":242,"y":27.5},{"s":"Up","x":258,"y":28.5},{"s":"Up","x":272,"y":27},{"s":"Up","x":288,"y":29.5},{"s":"Up","x":302,"y":26.5},{"s":"Up","x":318,"y":29},{"s":"Up","x":332,"y":28.5},{"s":"Up","x":348,"y":27},{"s":"Up","x":362,"y":29},{"s":"Up","x":378,"y":26.5},{"s":"Up","x":392,"y":28},{"s":"Up","x":408,"y":27.5},{"s":"Up","x":422,"y":29.5},{"s":"Up","x":438,"y":26},{"s":"Up","x":452,"y":29},{"s":"Up","x":468,"y":27.5},{"s":"Up","x":482,"y":28.5},{"s":"Up","x":498,"y":26.5},{"s":"Up","x":512,"y":28},{"s":"Up","x":528,"y":27},{"s":"Up","x":542,"y":29},{"s":"Up","x":558,"y":27},{"s":"Up","x":572,"y":28.5},{"s":"Up","x":588,"y":27.5},{"s":"Up","x":598,"y":26.5},
      {"s":"Up","x":0,"y":43.8},{"s":"Up","x":2,"y":43.5},{"s":"Up","x":4,"y":43},{"s":"Up","x":6,"y":43.5},{"s":"Up","x":3,"y":41},{"s":"Up","x":1,"y":39},{"s":"Up","x":2,"y":37},{"s":"Up","x":8,"y":36},{"s":"Up","x":12,"y":36},{"s":"Up","x":16,"y":35},{"s":"Up","x":23,"y":55.3},{"s":"Up","x":25,"y":55.7},{"s":"Up","x":31,"y":54.7},{"s":"Up","x":31,"y":75},{"s":"Up","x":59,"y":75},{"s":"Up","x":59,"y":60.2},{"s":"Up","x":85,"y":65.9},{"s":"Up","x":93,"y":54.1},{"s":"Up","x":116,"y":60.2},{"s":"Up","x":132,"y":60.2},{"s":"Up","x":134,"y":52.1},{"s":"Up","x":114,"y":48.2},{"s":"Up","x":194,"y":49.2},{"s":"Up","x":201,"y":46.6},{"s":"Up","x":229,"y":53.6},{"s":"Up","x":174,"y":44},{"s":"Up","x":30,"y":41},{"s":"Up","x":40,"y":40.5},{"s":"Up","x":50,"y":42},{"s":"Up","x":20,"y":45.5},{"s":"Up","x":60,"y":36},{"s":"Up","x":70,"y":38.5},{"s":"Up","x":80,"y":35.5},{"s":"Up","x":100,"y":42},{"s":"Up","x":110,"y":41},{"s":"Up","x":120,"y":40},{"s":"Up","x":140,"y":37},{"s":"Up","x":150,"y":36},{"s":"Up","x":160,"y":42.5},{"s":"Up","x":180,"y":37},{"s":"Up","x":200,"y":35.5},{"s":"Up","x":250,"y":42},{"s":"Up","x":270,"y":43},{"s":"Up","x":280,"y":38},{"s":"Up","x":300,"y":44},{"s":"Up","x":310,"y":41},{"s":"Up","x":320,"y":35.5},{"s":"Up","x":340,"y":36},{"s":"Up","x":360,"y":40},{"s":"Up","x":372,"y":57.6},{"s":"Up","x":387,"y":53},{"s":"Up","x":382,"y":36.3},{"s":"Up","x":405,"y":36.1},{"s":"Up","x":452,"y":71},{"s":"Up","x":455,"y":69.8},{"s":"Up","x":449,"y":61.8},{"s":"Up","x":460,"y":48.2},{"s":"Up","x":475,"y":47},{"s":"Up","x":487,"y":45.3},{"s":"Up","x":490,"y":43.5},{"s":"Up","x":490,"y":42.4},{"s":"Up","x":500,"y":40.5},{"s":"Up","x":454,"y":39.6},{"s":"Up","x":470,"y":39.5},{"s":"Up","x":522,"y":54},{"s":"Up","x":546,"y":54},{"s":"Up","x":580,"y":54},{"s":"Up","x":597,"y":51.9},{"s":"Up","x":590,"y":74.8},{"s":"Up","x":550,"y":42},{"s":"Up","x":565,"y":42},{"s":"Up","x":580,"y":42},{"s":"Up","x":590,"y":42},{"s":"Up","x":508,"y":36.3},{"s":"Up","x":540,"y":38},{"s":"Up","x":585,"y":38},{"s":"Up","x":595,"y":35},{"s":"Up","x":530,"y":35.5},{"s":"Up","x":570,"y":34},{"s":"Up","x":600,"y":36},{"s":"Up","x":620,"y":34},{"s":"Up","x":630,"y":31},{"s":"Up","x":645,"y":33}
    ]
  },
  "hconcat": [
    {
      "title": "Balancing prices DK-W February 2007",
      "width": 497,
      "height": 264,
      "layer": [
        {
          "data": {"name": "scatW"},
          "mark": {"type": "square", "size": 7, "filled": true, "opacity": 1},
          "encoding": {
            "x": {"field": "x", "type": "quantitative", "scale": {"domain": [0, 2500], "nice": false}, "axis": {"values": [0, 500, 1000, 1500, 2000, 2500], "format": "d", "labelFlush": false, "grid": false, "title": null, "tickSize": 5, "labelPadding": 12}},
            "y": {"field": "y", "type": "quantitative", "scale": {"domain": [0, 75], "nice": false}, "axis": {"values": [0, 25, 50, 75], "grid": true, "title": "€/MWh", "titleAngle": 0, "titleAlign": "left", "titleBaseline": "middle", "titleX": -39, "titleY": -22, "tickSize": 6, "labelPadding": 10}},
            "color": {"condition": {"test": "datum.s === 'Down'", "value": "#e61a1a"}, "value": "#1f1fb0"}
          }
        },
        {
          "data": {"name": "trendW"},
          "mark": {"type": "line", "strokeWidth": 1.2},
          "encoding": {
            "x": {"field": "x", "type": "quantitative"},
            "y": {"field": "y", "type": "quantitative"},
            "detail": {"field": "s", "type": "nominal"},
            "color": {"condition": {"test": "datum.s === 'Trend spot'", "value": "#cc1111"}, "value": "#8a8a8a"}
          }
        },
        {
          "data": {"name": "markW"},
          "transform": [{"filter": "datum.s === 'Trend up'"}],
          "mark": {"type": "point", "shape": "triangle-up", "filled": true, "fill": "#ffffff", "stroke": "#111111", "strokeWidth": 1, "size": 70, "opacity": 1},
          "encoding": {"x": {"field": "x", "type": "quantitative"}, "y": {"field": "y", "type": "quantitative"}}
        },
        {
          "data": {"name": "markW"},
          "transform": [{"filter": "datum.s === 'Trend down'"}],
          "mark": {"type": "point", "shape": "M-0.8,-0.8L0.8,0.8M-0.8,0.8L0.8,-0.8", "filled": false, "stroke": "#111111", "strokeWidth": 1, "size": 70, "opacity": 1},
          "encoding": {"x": {"field": "x", "type": "quantitative"}, "y": {"field": "y", "type": "quantitative"}}
        },
        {
          "data": {"name": "trendW"},
          "mark": {"type": "point", "filled": false, "opacity": 0, "size": 1296, "strokeWidth": 1.3},
          "encoding": {
            "x": {"field": "x", "type": "quantitative"},
            "y": {"field": "y", "type": "quantitative"},
            "color": {"field": "s", "type": "nominal", "scale": {"domain": ["Down", "Up", "Trend down", "Trend up", "Trend spot"], "range": ["#e61a1a", "#1f1fb0", "#555555", "#555555", "#cc1111"]}, "legend": {"title": null, "legendX": -30, "legendY": 313, "symbolOpacity": 1}},
            "shape": {"field": "s", "type": "nominal", "scale": {"domain": ["Down", "Up", "Trend down", "Trend up", "Trend spot"], "range": ["M-0.13,0L-0.092,-0.092L0,-0.13L0.092,-0.092L0.13,0L0.092,0.092L0,0.13L-0.092,0.092ZM-0.05,0L0,-0.05L0.05,0L0,0.05Z", "M-0.13,0L-0.092,-0.092L0,-0.13L0.092,-0.092L0.13,0L0.092,0.092L0,0.13L-0.092,0.092ZM-0.05,0L0,-0.05L0.05,0L0,0.05Z", "M-1,0H1M-0.2,-0.2L0.2,0.2M-0.2,0.2L0.2,-0.2", "M-1,0H-0.26M0.26,0H1M-0.26,0.22L0,-0.26L0.26,0.22Z", "M-1,0H1"]}, "legend": {"title": null, "legendX": -30, "legendY": 313, "symbolOpacity": 1}}
          }
        }
      ]
    },
    {
      "title": "Balancing prices DK-E February 2007",
      "width": 517,
      "height": 263,
      "layer": [
        {
          "data": {"name": "scatE"},
          "mark": {"type": "square", "size": 7, "filled": true, "opacity": 1},
          "encoding": {
            "x": {"field": "x", "type": "quantitative", "scale": {"domain": [0, 800], "nice": false}, "axis": {"values": [0, 200, 400, 600, 800], "format": "d", "labelFlush": false, "grid": false, "title": null, "tickSize": 5, "labelPadding": 12}},
            "y": {"field": "y", "type": "quantitative", "scale": {"domain": [0, 75], "nice": false}, "axis": {"values": [0, 25, 50, 75], "grid": true, "title": "€/MWh", "titleAngle": 0, "titleAlign": "left", "titleBaseline": "middle", "titleX": -41, "titleY": -22, "tickSize": 6, "labelPadding": 10}},
            "color": {"condition": {"test": "datum.s === 'Down'", "value": "#e61a1a"}, "value": "#1f1fb0"}
          }
        },
        {
          "data": {"name": "trendE"},
          "mark": {"type": "line", "strokeWidth": 1.2},
          "encoding": {
            "x": {"field": "x", "type": "quantitative"},
            "y": {"field": "y", "type": "quantitative"},
            "detail": {"field": "s", "type": "nominal"},
            "color": {"condition": {"test": "datum.s === 'Trend spot'", "value": "#cc1111"}, "value": "#8a8a8a"}
          }
        },
        {
          "data": {"name": "markE"},
          "transform": [{"filter": "datum.s === 'Trend up'"}],
          "mark": {"type": "point", "shape": "triangle-up", "filled": true, "fill": "#ffffff", "stroke": "#111111", "strokeWidth": 1, "size": 70, "opacity": 1},
          "encoding": {"x": {"field": "x", "type": "quantitative"}, "y": {"field": "y", "type": "quantitative"}}
        },
        {
          "data": {"name": "markE"},
          "transform": [{"filter": "datum.s === 'Trend down'"}],
          "mark": {"type": "point", "shape": "M-0.8,-0.8L0.8,0.8M-0.8,0.8L0.8,-0.8", "filled": false, "stroke": "#111111", "strokeWidth": 1, "size": 70, "opacity": 1},
          "encoding": {"x": {"field": "x", "type": "quantitative"}, "y": {"field": "y", "type": "quantitative"}}
        },
        {
          "data": {"name": "trendE"},
          "mark": {"type": "point", "filled": false, "opacity": 0, "size": 1296, "strokeWidth": 1.3},
          "encoding": {
            "x": {"field": "x", "type": "quantitative"},
            "y": {"field": "y", "type": "quantitative"},
            "color": {"field": "s", "type": "nominal", "scale": {"domain": ["Down", "Up", "Trend down", "Trend up", "Trend spot"], "range": ["#e61a1a", "#1f1fb0", "#555555", "#555555", "#cc1111"]}, "legend": {"title": null, "legendX": -14, "legendY": 313, "symbolOpacity": 1}},
            "shape": {"field": "s", "type": "nominal", "scale": {"domain": ["Down", "Up", "Trend down", "Trend up", "Trend spot"], "range": ["M-0.13,0L-0.092,-0.092L0,-0.13L0.092,-0.092L0.13,0L0.092,0.092L0,0.13L-0.092,0.092ZM-0.05,0L0,-0.05L0.05,0L0,0.05Z", "M-0.13,0L-0.092,-0.092L0,-0.13L0.092,-0.092L0.13,0L0.092,0.092L0,0.13L-0.092,0.092ZM-0.05,0L0,-0.05L0.05,0L0,0.05Z", "M-1,0H1M-0.2,-0.2L0.2,0.2M-0.2,0.2L0.2,-0.2", "M-1,0H-0.26M0.26,0H1M-0.26,0.22L0,-0.26L0.26,0.22Z", "M-1,0H1"]}, "legend": {"title": null, "legendX": -14, "legendY": 313, "symbolOpacity": 1}}
          }
        }
      ]
    }
  ],
  "resolve": {"scale": {"color": "independent", "shape": "independent", "x": "independent", "y": "independent"}, "legend": {"color": "independent", "shape": "independent"}}
}
